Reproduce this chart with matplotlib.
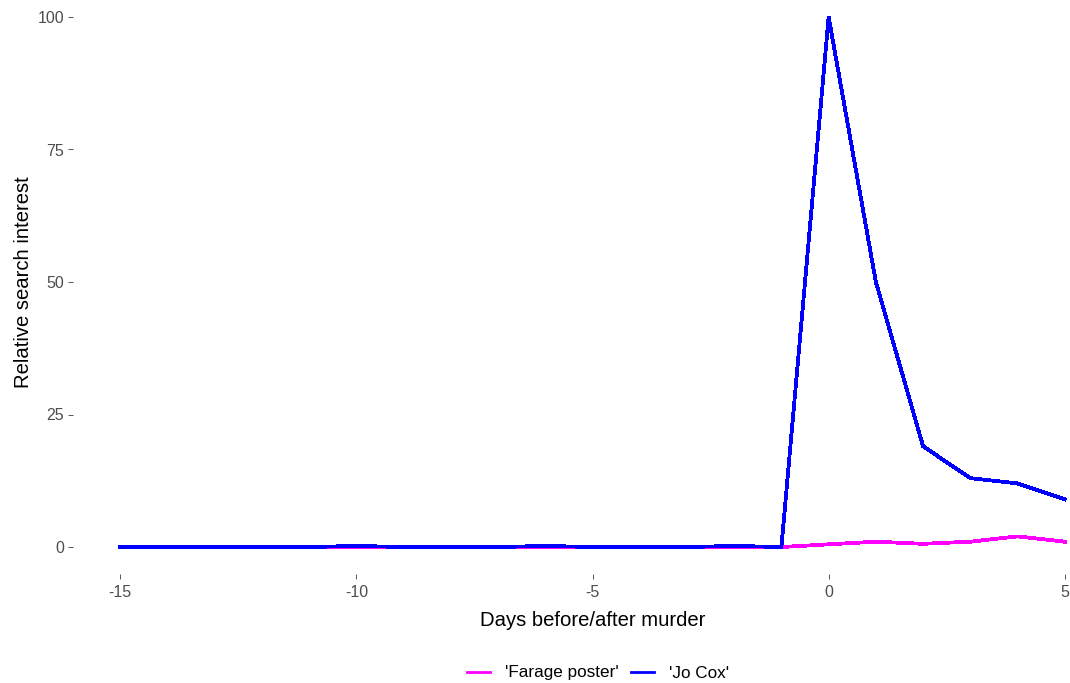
import matplotlib
matplotlib.use("Agg")
import matplotlib.pyplot as plt
from matplotlib.lines import Line2D

days = list(range(-15, 6))
farage_poster = [0, 0, 0, 0, 0, 0, 0, 0, 0, 0, 0, 0, 0, 0, 0, 0.5, 1, 0.6, 1, 2, 1]
jo_cox = [0, 0, 0, 0, 0, 0.2, 0, 0, 0, 0.2, 0, 0, 0, 0.2, 0, 100, 50, 19, 13, 12, 9]
series_labels = ["'Farage poster'", "'Jo Cox'"]
x_ticks = [-15, -10, -5, 0, 5]
y_ticks = [0, 25, 50, 75, 100]

plt.rcParams['font.family'] = ['Liberation Sans', 'DejaVu Sans']

W, H = 1070, 683
fig = plt.figure(figsize=(W / 100, H / 100), dpi=100)
left, right, bottom, top = 73, 1112, 573.5, -9.5
ax = fig.add_axes([left / W, (H - bottom) / H, (right - left) / W, (bottom - top) / H])

col_f = '#FF00FF'
col_j = '#0000FF'
ax.plot(days, farage_poster, color=col_f, lw=2.0, antialiased=False, solid_joinstyle='miter')
ax.plot(days, jo_cox, color=col_j, lw=2.0, antialiased=False, solid_joinstyle='miter')

ax.set_xlim(-16, 6)
ax.set_ylim(-5, 105)
ax.set_xticks(x_ticks)
ax.set_xticklabels([str(t) for t in x_ticks])
ax.set_yticks(y_ticks)
ax.set_yticklabels([str(t) for t in y_ticks])
for s in ax.spines.values():
    s.set_visible(False)
ax.tick_params(axis='both', colors='#555555', length=3.5, width=0.7, labelsize=11.5, labelcolor='#4D4D4D')
ax.tick_params(axis='x', pad=5)
ax.tick_params(axis='y', pad=3)

ax.set_xlabel('Days before/after murder', fontsize=14.6, color='black', labelpad=8)
ax.set_ylabel('Relative search interest', fontsize=14.6, color='black', labelpad=3)

handles = [Line2D([], [], color=col_f, lw=2), Line2D([], [], color=col_j, lw=2)]
fig.legend(handles, series_labels, loc='center', bbox_to_anchor=(598 / W, 1 - 673 / H),
           ncol=2, frameon=False, fontsize=12.3, handlelength=1.35, handletextpad=0.9,
           columnspacing=0.7)

fig.savefig('out.png', dpi=100)
